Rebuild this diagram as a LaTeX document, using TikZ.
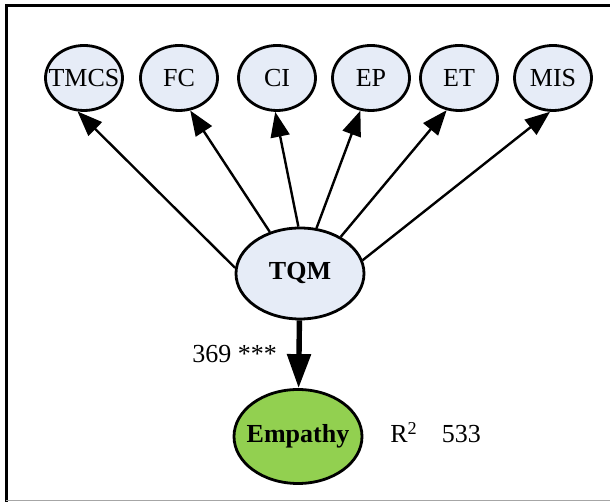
\documentclass[tikz,border=0pt]{standalone}
\usepackage{fontspec}
\setmainfont{Liberation Serif}
\usetikzlibrary{shapes.geometric,arrows.meta}
\definecolor{factorfill}{RGB}{230,236,247}
\definecolor{outcomefill}{RGB}{146,208,80}
\begin{document}
\begin{tikzpicture}[x=0.5pt,y=0.5pt,
  font=\fontsize{13}{15}\selectfont,
  >={Triangle[length=12.5pt,width=9.5pt]},
  factor/.style={ellipse,draw,line width=1.4pt,fill=factorfill,inner xsep=-5pt,inner ysep=0pt,
    minimum width=38.5pt,minimum height=32.5pt},
  latent/.style={ellipse,draw,line width=1.4pt,inner xsep=-5pt,inner ysep=0pt,
    minimum width=64pt,font=\fontsize{13}{15}\selectfont\bfseries},
  loading/.style={->,line width=1.2pt},
  path/.style={-{Triangle[length=17pt,width=11.5pt]},line width=2.7pt}]
\useasboundingbox (0,0) rectangle (610,502);
% frame
\draw[line width=1.5pt] (6,0) -- (6,496.5) -- (610,496.5);
\draw[black!35,line width=0.5pt] (6,1.2) -- (610,1.2);
% dimensions
\foreach \nm/\lab/\x in {tmcs/TMCS/84,fc/FC/179,ci/CI/277,ep/EP/371,et/ET/459,mis/MIS/553}
  \node[factor] (\nm) at (\x,424) {\lab};
\node[latent,fill=factorfill,minimum height=45.5pt] (tqm) at (300,228.5) {TQM};
\node[latent,fill=outcomefill,minimum height=47pt] (emp) at (298,65.5) {Empathy};
% loadings
\foreach \nm/\a/\b in {tmcs/175/-101,fc/126/-71,ci/92/-93,ep/70/-108,et/42/-111,mis/12/-95}
  \draw[loading] (tqm.\a) -- (\nm.\b);
% structural path
\draw[path] (tqm) -- (emp);
\node[anchor=base west,inner sep=0pt] (beta) at (192,139) {369 ***};
\node[anchor=base west,inner sep=0pt] (rsq) at (390,59) {R\textsuperscript{2}\hspace{12pt}533};
\end{tikzpicture}
\end{document}
